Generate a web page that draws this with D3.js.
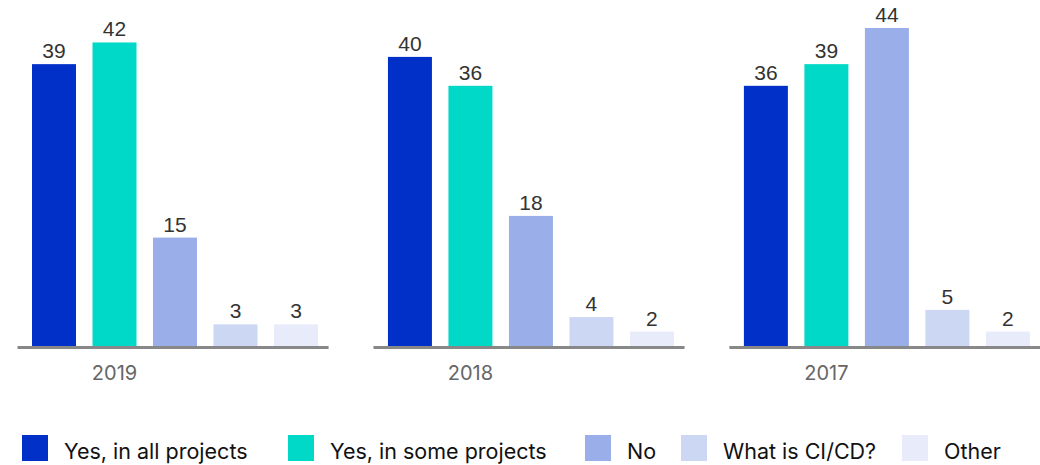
<!DOCTYPE html>
<html><head><meta charset="utf-8">
<script src="https://cdn.jsdelivr.net/npm/d3@7"></script>
<style>
html,body{margin:0;padding:0;background:#fff;}
svg{display:block;}
</style></head>
<body>
<svg id="chart" width="1040" height="465"></svg>
<script>
const years = ["2019", "2018", "2017"];
const answers = ["Yes, in all projects", "Yes, in some projects", "No", "What is CI/CD?", "Other"];
const values2019 = [39, 42, 15, 3, 3];
const values2018 = [40, 36, 18, 4, 2];
const values2017 = [36, 39, 44, 5, 2];
const colors = ["#0030c8", "#00d9c8", "#9aaee9", "#ccd7f4", "#e8ecfa"];

const seriesByYear = { "2019": values2019, "2018": values2018, "2017": values2017 };

const svg = d3.select("#chart");
const baseY = 346;

const x0 = d3.scaleBand().domain(years).range([17, 1040]).paddingInner(0.126).paddingOuter(0);
const x1 = d3.scaleBand().domain(answers).range([15, 301]).paddingInner(0.273).paddingOuter(0);
const y = d3.scaleLinear().domain([0, 44]).range([baseY, 28]);

const groups = svg.selectAll("g.grp").data(years).join("g")
  .attr("class", "grp")
  .attr("transform", d => `translate(${x0(d)},0)`);

groups.each(function(yr) {
  const g = d3.select(this);
  const vals = seriesByYear[yr].map((v, i) => ({ k: answers[i], v, c: colors[i] }));
  const axis = d3.axisBottom(d3.scaleBand().domain([yr]).range([0, x0.bandwidth()]))
    .tickSize(0).tickPadding(0);
  const ag = g.append("g").attr("transform", `translate(0,${baseY + 1})`).call(axis);
  ag.select(".domain").attr("stroke", "#888").attr("stroke-width", 3);
  ag.selectAll(".tick").remove();
  g.selectAll("rect.bar").data(vals).join("rect")
    .attr("class", "bar")
    .attr("x", d => x1(d.k))
    .attr("width", x1.bandwidth())
    .attr("y", d => y(d.v))
    .attr("height", d => baseY - y(d.v))
    .attr("fill", d => d.c);
  g.selectAll("text.val").data(vals).join("text")
    .attr("class", "val")
    .attr("x", d => x1(d.k) + x1.bandwidth() / 2)
    .attr("y", d => y(d.v) - 6)
    .attr("text-anchor", "middle")
    .attr("font-family", "'Liberation Sans', Arial, sans-serif")
    .attr("font-size", 21)
    .attr("fill", "#333")
    .text(d => d.v);
  g.append("text")
    .attr("x", x1(answers[1]) + x1.bandwidth() / 2)
    .attr("y", 380)
    .attr("text-anchor", "middle")
    .attr("font-family", "Inter, 'Open Sans', sans-serif")
    .attr("font-size", 20)
    .attr("fill", "#666")
    .text(yr);
});

// legend
const legendX = [22, 288, 585, 681, 902];
const lg = svg.selectAll("g.leg").data(answers).join("g")
  .attr("class", "leg")
  .attr("transform", (d, i) => `translate(${legendX[i]},435)`);
lg.append("rect").attr("width", 26).attr("height", 26).attr("fill", (d, i) => colors[i]);
lg.append("text").attr("x", 42).attr("y", 24)
  .attr("font-family", "Inter, 'Open Sans', sans-serif")
  .attr("font-size", 21.5)
  .attr("fill", "#111")
  .text(d => d);
</script>
</body></html>
